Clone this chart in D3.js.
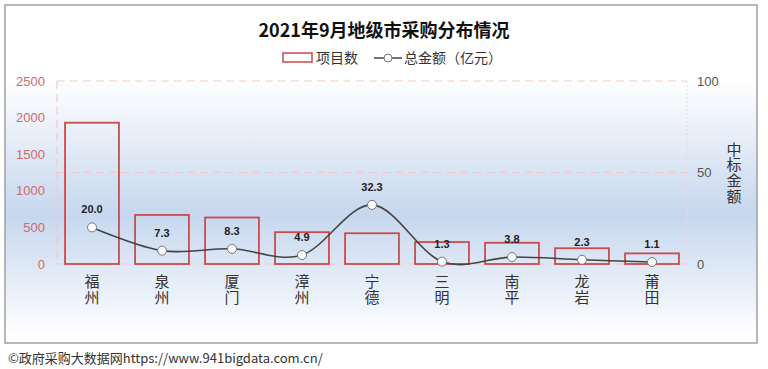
<!DOCTYPE html>
<html><head><meta charset="utf-8">
<script src="https://cdn.jsdelivr.net/npm/d3@7/dist/d3.min.js"></script>
<style>
html,body{margin:0;padding:0;background:#fff;}
svg{display:block;font-family:"Noto Sans CJK SC","Noto Sans",sans-serif;}
</style></head>
<body>
<svg id="chart" width="768" height="369"></svg>
<script>
const categories = ["福州","泉州","厦门","漳州","宁德","三明","南平","龙岩","莆田"];
const projects = [1930, 670, 635, 435, 420, 300, 290, 215, 145];
const amounts = [20.0, 7.3, 8.3, 4.9, 32.3, 1.3, 3.8, 2.3, 1.1];
const leftTicks = [0, 500, 1000, 1500, 2000, 2500];
const rightTicks = [0, 50, 100];

const svg = d3.select("#chart");
const defs = svg.append("defs");
const grad = defs.append("linearGradient").attr("id","bg").attr("x1",0).attr("y1",0).attr("x2",0).attr("y2",1);
grad.append("stop").attr("offset","0%").attr("stop-color","#ffffff");
grad.append("stop").attr("offset","22%").attr("stop-color","#ffffff");
grad.append("stop").attr("offset","62%").attr("stop-color","#c6d7ee");
grad.append("stop").attr("offset","98%").attr("stop-color","#ffffff");

svg.append("rect").attr("x",5).attr("y",5).attr("width",752).attr("height",338)
  .attr("fill","url(#bg)").attr("stroke","#a0a0a0").attr("stroke-width",1.5);

const pLeft = 57, pRight = 687, pTop = 81, pBottom = 264;
const x = d3.scaleBand().domain(categories).range([pLeft, pRight]).paddingInner(0.23).paddingOuter(0.115);
const xc = d => x(d) + x.bandwidth()/2;
const yL = d3.scaleLinear().domain([0,2500]).range([pBottom, pTop]);
const yR = d3.scaleLinear().domain([0,100]).range([pBottom, pTop]);

// grid
const grid = svg.append("g");
rightTicks.forEach(t => {
  grid.append("line").attr("x1",pLeft).attr("x2",pRight).attr("y1",yR(t)).attr("y2",yR(t))
    .attr("stroke","#f3c9c9").attr("stroke-width",1.2).attr("stroke-dasharray","8,5");
});
grid.append("line").attr("x1",pLeft).attr("x2",pLeft).attr("y1",pTop).attr("y2",pBottom)
  .attr("stroke","#f3c9c9").attr("stroke-width",1.2).attr("stroke-dasharray","8,5");
grid.append("line").attr("x1",pRight).attr("x2",pRight).attr("y1",pTop).attr("y2",pBottom)
  .attr("stroke","#f3d6d6").attr("stroke-width",1).attr("stroke-dasharray","2,2");

// left axis
const axL = svg.append("g").attr("transform",`translate(${pLeft-12},0)`)
  .call(d3.axisLeft(yL).tickValues(leftTicks).tickFormat(d3.format("d")).tickSize(0).tickPadding(0));
axL.select(".domain").remove();
axL.selectAll("text").attr("fill","#d06a6a").style("font-size","13px")
  .style("font-family","'Liberation Sans',sans-serif");

// right axis
const axR = svg.append("g").attr("transform",`translate(${pRight+10},0)`)
  .call(d3.axisRight(yR).tickValues(rightTicks).tickFormat(d3.format("d")).tickSize(0).tickPadding(0));
axR.select(".domain").remove();
axR.selectAll("text").attr("fill","#555").style("font-size","13px")
  .style("font-family","'Liberation Sans',sans-serif");

// right axis title vertical
svg.append("text").attr("x",734).attr("y",141.5).attr("fill","#333")
  .style("font-size","15px").style("writing-mode","vertical-rl").style("letter-spacing","0.7px")
  .text("中标金额");

// bars
svg.append("g").selectAll("rect").data(categories).join("rect")
  .attr("x", d => x(d)).attr("width", x.bandwidth())
  .attr("y", (d,i) => yL(projects[i])).attr("height", (d,i) => pBottom - yL(projects[i]))
  .attr("fill","none").attr("stroke","#cc4a4a").attr("stroke-width",1.8);

// x labels (vertical)
svg.append("g").selectAll("text").data(categories).join("text")
  .attr("x", d => xc(d)).attr("y", 274).attr("fill","#333")
  .style("font-size","15px").style("writing-mode","vertical-rl").style("letter-spacing","1px")
  .text(d => d);

// line
const line = d3.line().x((d,i) => xc(categories[i])).y(d => yR(d)).curve(d3.curveCardinal.tension(0));
svg.append("path").datum(amounts).attr("d", line).attr("fill","none")
  .attr("stroke","#444").attr("stroke-width",1.6);
svg.append("g").selectAll("circle").data(amounts).join("circle")
  .attr("cx",(d,i) => xc(categories[i])).attr("cy", d => yR(d)).attr("r",4.5)
  .attr("fill","#fff").attr("stroke","#777").attr("stroke-width",1);
svg.append("g").selectAll("text").data(amounts).join("text")
  .attr("x",(d,i) => xc(categories[i])).attr("y", d => yR(d) - 14)
  .attr("text-anchor","middle").attr("fill","#222").style("font-size","11px").style("font-weight","bold")
  .style("font-family","'Liberation Sans',sans-serif")
  .text(d => d.toFixed(1));

// title
svg.append("text").attr("x",384).attr("y",37).attr("text-anchor","middle")
  .style("font-size","18px").style("font-weight","bold").attr("fill","#111")
  .text("2021年9月地级市采购分布情况");

// legend
const lg = svg.append("g");
lg.append("rect").attr("x",283).attr("y",53).attr("width",29).attr("height",9)
  .attr("fill","none").attr("stroke","#cc4a4a").attr("stroke-width",1.5);
lg.append("text").attr("x",316).attr("y",63).style("font-size","14px").attr("fill","#333").text("项目数");
lg.append("line").attr("x1",374).attr("x2",402).attr("y1",58).attr("y2",58).attr("stroke","#444").attr("stroke-width",1.5);
lg.append("circle").attr("cx",388).attr("cy",58).attr("r",4).attr("fill","#fff").attr("stroke","#777");
lg.append("text").attr("x",404).attr("y",63).style("font-size","14px").attr("fill","#333").text("总金额（亿元）");

// footer
svg.append("text").attr("x",8).attr("y",363).style("font-size","13px").attr("fill","#333")
  .text("©政府采购大数据网https://www.941bigdata.com.cn/");
</script>
</body></html>
